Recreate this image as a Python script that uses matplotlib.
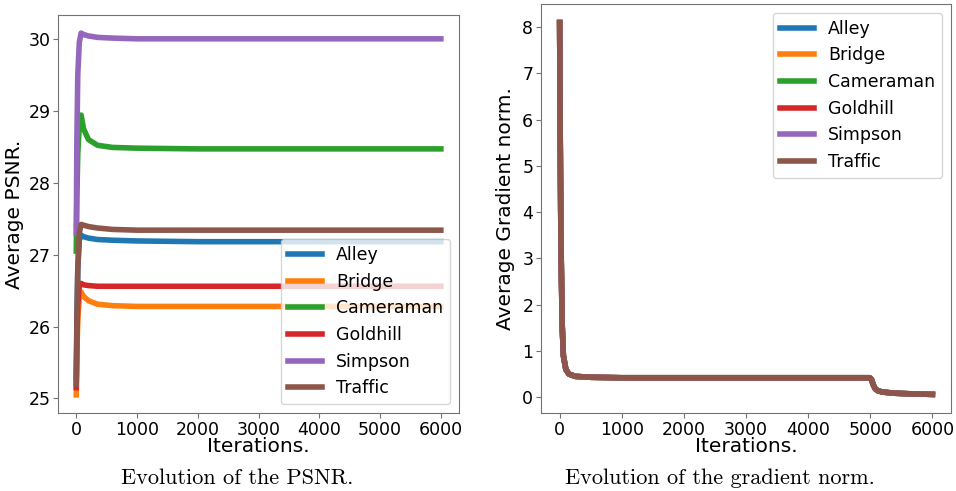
import numpy as np
import matplotlib.pyplot as plt

# Iterationer där värdena lästs av
iters = [0, 10, 25, 50, 80, 120, 200, 350, 600, 1000, 2000, 3000, 4000, 5000, 6000]

names = ['Alley', 'Bridge', 'Cameraman', 'Goldhill', 'Simpson', 'Traffic']

# PSNR per bild
psnr_alley = [25.3, 26.1, 26.8, 27.2, 27.27, 27.25, 27.23, 27.21, 27.2, 27.19, 27.18, 27.18, 27.18, 27.18, 27.18]
psnr_bridge = [25.05, 25.6, 26.1, 26.4, 26.48, 26.42, 26.36, 26.31, 26.29, 26.28, 26.28, 26.28, 26.28, 26.28, 26.28]
psnr_cameraman = [27.05, 27.8, 28.4, 28.8, 28.94, 28.75, 28.6, 28.52, 28.49, 28.48, 28.47, 28.47, 28.47, 28.47, 28.47]
psnr_goldhill = [25.15, 25.8, 26.3, 26.57, 26.6, 26.58, 26.57, 26.56, 26.56, 26.56, 26.56, 26.56, 26.56, 26.56, 26.56]
psnr_simpson = [27.3, 28.6, 29.5, 29.95, 30.08, 30.06, 30.04, 30.02, 30.01, 30.0, 30.0, 30.0, 30.0, 30.0, 30.0]
psnr_traffic = [25.2, 26.0, 26.8, 27.3, 27.42, 27.41, 27.39, 27.37, 27.35, 27.34, 27.34, 27.34, 27.34, 27.34, 27.34]

# Gradientnorm (alla bilder ligger nästan på varandra)
grad_iters = [0, 10, 20, 40, 60, 100, 150, 250, 500, 1000, 3000, 4990, 5020, 5050, 5080, 5120, 5200, 5400, 5700, 6000]
grad_alley = [8.1, 5.5, 3.5, 1.6, 0.9, 0.6, 0.5, 0.45, 0.43, 0.42, 0.42, 0.42, 0.38, 0.26, 0.18, 0.14, 0.11, 0.085, 0.07, 0.06]
grad_bridge = [8.1, 5.5, 3.5, 1.6, 0.9, 0.6, 0.5, 0.45, 0.43, 0.42, 0.42, 0.42, 0.38, 0.26, 0.18, 0.14, 0.11, 0.085, 0.07, 0.06]
grad_cameraman = [8.1, 5.5, 3.5, 1.6, 0.9, 0.6, 0.5, 0.45, 0.43, 0.42, 0.42, 0.42, 0.38, 0.26, 0.18, 0.14, 0.11, 0.085, 0.07, 0.06]
grad_goldhill = [8.1, 5.5, 3.5, 1.6, 0.9, 0.6, 0.5, 0.45, 0.43, 0.42, 0.42, 0.42, 0.38, 0.26, 0.18, 0.14, 0.11, 0.085, 0.07, 0.06]
grad_simpson = [8.1, 5.5, 3.5, 1.6, 0.9, 0.6, 0.5, 0.45, 0.43, 0.42, 0.42, 0.42, 0.38, 0.26, 0.18, 0.14, 0.11, 0.085, 0.07, 0.06]
grad_traffic = [8.1, 5.5, 3.5, 1.6, 0.9, 0.6, 0.5, 0.45, 0.43, 0.42, 0.42, 0.42, 0.38, 0.26, 0.18, 0.14, 0.11, 0.085, 0.07, 0.06]

psnr = [psnr_alley, psnr_bridge, psnr_cameraman, psnr_goldhill, psnr_simpson, psnr_traffic]
grad = [grad_alley, grad_bridge, grad_cameraman, grad_goldhill, grad_simpson, grad_traffic]

plt.rcParams['font.size'] = 12

fig = plt.figure(figsize=(9.56, 4.91), dpi=100)
ax1 = fig.add_axes([0.0607, 0.1589, 0.4195, 0.8106])
ax2 = fig.add_axes([0.5659, 0.1589, 0.4289, 0.833])

for name, vals in zip(names, psnr):
    ax1.plot(iters, vals, lw=4, label=name)
ax1.set_xlabel('Iterations.', fontsize=14.5, labelpad=-1)
ax1.set_ylabel('Average PSNR.', fontsize=14.5, labelpad=3)
ax1.set_xticks([0, 1000, 2000, 3000, 4000, 5000, 6000])
ax1.legend(loc='lower right', fontsize=12.5)

for name, vals in zip(names, grad):
    ax2.plot(grad_iters, vals, lw=4, label=name)
ax2.set_xlabel('Iterations.', fontsize=14.5, labelpad=-1)
ax2.set_ylabel('Average Gradient norm.', fontsize=14.5, labelpad=5)
ax2.set_xticks([0, 1000, 2000, 3000, 4000, 5000, 6000])
ax2.legend(loc='upper right', fontsize=12.5)

for ax in (ax1, ax2):
    for s in ax.spines.values():
        s.set_color('0.45')
    ax.tick_params(color='0.45', pad=2, labelsize=12.5)

fig.text(0.248, 0.0265, 'Evolution of the PSNR.', family='cmr10', fontsize=16, ha='center', va='center')
fig.text(0.753, 0.0265, 'Evolution of the gradient norm.', family='cmr10', fontsize=16, ha='center', va='center')

fig.savefig('out.png')
